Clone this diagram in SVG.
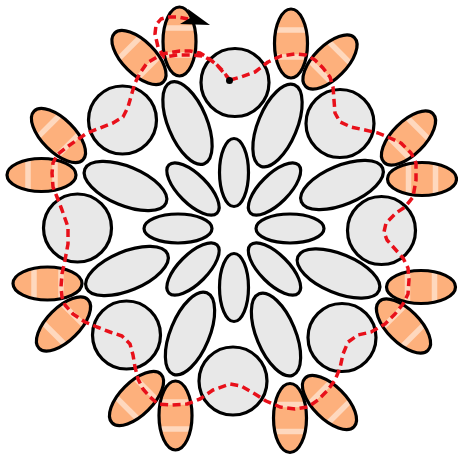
<svg xmlns="http://www.w3.org/2000/svg" xmlns:xlink="http://www.w3.org/1999/xlink" width="458" height="457" viewBox="0 0 458 457">
<style>
.of{fill:#fdb07c;stroke:none}
.os{fill:none;stroke:#000;stroke-width:3.2}
.band{stroke:#fff;stroke-opacity:0.5;stroke-width:5.5}
.g{fill:#e8e8e8;stroke:#000;stroke-width:3.2}
.thread{fill:none;stroke:#e8101a;stroke-width:3.5;stroke-dasharray:8 4.5;stroke-linejoin:round}
</style>
<defs>
<g id="bead">
<ellipse class="of" rx="16.5" ry="34.5"/>
<line class="band" x1="-15.5" y1="-13.5" x2="15.5" y2="-13.5"/>
<line class="band" x1="-15.5" y1="13.5" x2="15.5" y2="13.5"/>
<ellipse class="os" rx="16.5" ry="34.5"/>
</g>
<ellipse id="long" class="g" rx="19.5" ry="44"/>
<ellipse id="petal" class="g" rx="14.5" ry="34"/>
<circle id="round" class="g" r="34"/>
</defs>
<g id="inner">
<g id="p1" transform="translate(234,172.5)"><use xlink:href="#petal"/></g>
<g id="p2" transform="translate(274.5,189) rotate(45)"><use xlink:href="#petal"/></g>
<g id="p3" transform="translate(290,228.5) rotate(90)"><use xlink:href="#petal"/></g>
<g id="p4" transform="translate(274.5,269) rotate(-45)"><use xlink:href="#petal"/></g>
<g id="p5" transform="translate(234,287.5)"><use xlink:href="#petal"/></g>
<g id="p6" transform="translate(193,269) rotate(45)"><use xlink:href="#petal"/></g>
<g id="p7" transform="translate(178,228.5) rotate(90)"><use xlink:href="#petal"/></g>
<g id="p8" transform="translate(193,189) rotate(-45)"><use xlink:href="#petal"/></g>
</g>
<g id="middle">
<g id="l1" transform="translate(187.5,123) rotate(-22.5)"><use xlink:href="#long"/></g>
<g id="l2" transform="translate(277.5,125.5) rotate(22.5)"><use xlink:href="#long"/></g>
<g id="l3" transform="translate(342,185) rotate(67.5)"><use xlink:href="#long"/></g>
<g id="l4" transform="translate(338.5,273.5) rotate(-67.5)"><use xlink:href="#long"/></g>
<g id="l5" transform="translate(276,334.5) rotate(-22.5)"><use xlink:href="#long"/></g>
<g id="l6" transform="translate(190,333.5) rotate(22.5)"><use xlink:href="#long"/></g>
<g id="l7" transform="translate(127,271) rotate(67.5)"><use xlink:href="#long"/></g>
<g id="l8" transform="translate(125.5,186) rotate(-67.5)"><use xlink:href="#long"/></g>
</g>
<g id="circles">
<g id="c1" transform="translate(235,82.5)"><use xlink:href="#round"/></g>
<g id="c2" transform="translate(340,123.5)"><use xlink:href="#round"/></g>
<g id="c3" transform="translate(381.5,230.5)"><use xlink:href="#round"/></g>
<g id="c4" transform="translate(342,337.5)"><use xlink:href="#round"/></g>
<g id="c5" transform="translate(233,381)"><use xlink:href="#round"/></g>
<g id="c6" transform="translate(126.5,335)"><use xlink:href="#round"/></g>
<g id="c7" transform="translate(77.5,228)"><use xlink:href="#round"/></g>
<g id="c8" transform="translate(122.5,120)"><use xlink:href="#round"/></g>
</g>
<g id="outer">
<g id="o1" transform="translate(179.5,41.5)"><use xlink:href="#bead"/></g>
<g id="o2" transform="translate(139,57.5) rotate(-45)"><use xlink:href="#bead"/></g>
<g id="o3" transform="translate(58.5,135.5) rotate(-45)"><use xlink:href="#bead"/></g>
<g id="o4" transform="translate(41.5,175) rotate(90)"><use xlink:href="#bead"/></g>
<g id="o5" transform="translate(47.5,283.5) rotate(90)"><use xlink:href="#bead"/></g>
<g id="o6" transform="translate(63.5,324) rotate(45)"><use xlink:href="#bead"/></g>
<g id="o7" transform="translate(136.5,398.5) rotate(45)"><use xlink:href="#bead"/></g>
<g id="o8" transform="translate(175.5,415.5)"><use xlink:href="#bead"/></g>
<g id="o9" transform="translate(290,418)"><use xlink:href="#bead"/></g>
<g id="o10" transform="translate(329.5,402.5) rotate(-45)"><use xlink:href="#bead"/></g>
<g id="o11" transform="translate(403.5,326) rotate(-45)"><use xlink:href="#bead"/></g>
<g id="o12" transform="translate(421,287) rotate(90)"><use xlink:href="#bead"/></g>
<g id="o13" transform="translate(422,179) rotate(90)"><use xlink:href="#bead"/></g>
<g id="o14" transform="translate(408.5,138) rotate(45)"><use xlink:href="#bead"/></g>
<g id="o15" transform="translate(330,62) rotate(45)"><use xlink:href="#bead"/></g>
<g id="o16" transform="translate(291,43.5)"><use xlink:href="#bead"/></g>
</g>
<g id="connectors">
<path class="thread" d="M230,80 L241,77 L255,72 L268,62 L281,56 L295,54 L306,55 L315,60 L323,68 L330,77 L333,87 L334,100 L335,113 L340,122 L351,127 L365,130 L378,133 L388,137 L401,143 L411,153 L416,163 L416,180 L413,197 L405,207 L396,213 L386,223 L384,232 L387,240 L395,249 L403,258 L408,268 L409,280 L408,294 L403,304 L395,314 L385,324 L371,332 L358,335 L348,342 L343,354 L340,368 L335,380 L328,390 L318,400 L308,407 L295,409 L280,407 L266,401 L255,394 L241,386 L230,384 L213,390 L200,399 L187,404 L172,405 L158,404 L150,397 L143,389 L138,379 L135,367 L133,355 L130,344 L122,336 L110,332 L97,327 L85,322 L73,314 L65,305 L62,297 L61,287 L62,274 L65,260 L68,244 L68,227 L62,210 L57,197 L53,187 L52,173 L53,163 L57,155 L67,147 L77,140 L87,133 L100,128 L113,123 L123,117 L128,107 L132,93 L135,83 L140,73 L147,63 L162,54 L180,51 L190,51 L200,53 L208,58 L217,65 L223,72 L230,80 M230,80 L222,70 L214,62 L203,56 L190,55 L178,55 L164,57 L158,47 L155,34 L156,25 L161,19 L168,17 L178,17 L188,19"/>
<polygon points="188,9 210,25 180,24 190,18" fill="#000"/>
<circle cx="229.5" cy="80.5" r="3.5" fill="#000"/>
</g>
</svg>
